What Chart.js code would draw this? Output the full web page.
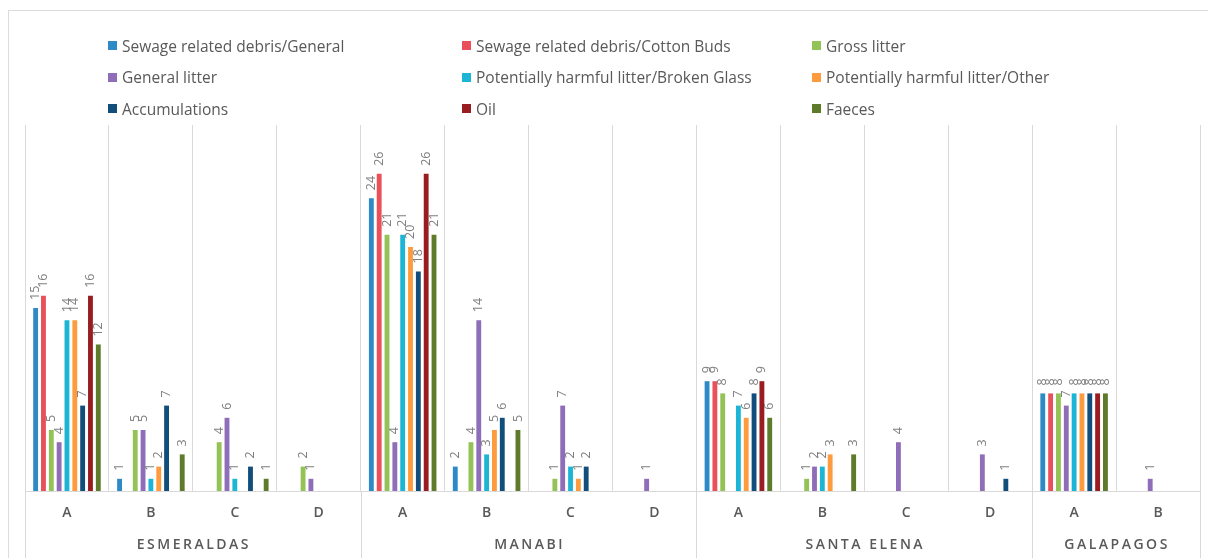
<!DOCTYPE html>
<html>
<head>
<meta charset="utf-8">
<title>Litter categories by beach and province</title>
<script src="https://cdn.jsdelivr.net/npm/chart.js@4.4.1/dist/chart.umd.min.js"></script>
<style>
  html, body { margin: 0; padding: 0; background: #ffffff; }
  #wrap { position: relative; width: 1208px; height: 558px; overflow: hidden; }
  #frame { position: absolute; left: 8px; top: 10px; width: 1400px; height: 800px; border: 1px solid #dcdcdc; box-sizing: border-box; }
  #chart { position: absolute; left: 0; top: 0; }
  #legend {
    position: absolute; left: 108px; top: 30px;
    display: grid; grid-template-columns: 354px 350px 300px; grid-auto-rows: 31.5px;
    font-family: "Open Sans", sans-serif; font-size: 15.5px; color: #595959;
  }
  #legend .item { display: flex; align-items: center; white-space: nowrap; }
  #legend .swatch { width: 9px; height: 9px; margin-right: 5px; flex: none; }
</style>
</head>
<body>
<div id="wrap">
  <div id="frame"></div>
  <canvas id="chart" width="1208" height="558"></canvas>
  <div id="legend"></div>
</div>
<script>
// Sites (beach A–D) within each province
const categories = ['A', 'B', 'C', 'D', 'A', 'B', 'C', 'D', 'A', 'B', 'C', 'D', 'A', 'B'];
const provinces = ['ESMERALDAS', 'MANABI', 'SANTA ELENA', 'GALAPAGOS'];
const provinceSiteCounts = [4, 4, 4, 2];

// Counts per litter category, one value per site
const sewageGeneral      = [15, 1, 0, 0, 24, 2, 0, 0, 9, 0, 0, 0, 8, 0];
const sewageCottonBuds   = [16, 0, 0, 0, 26, 0, 0, 0, 9, 0, 0, 0, 8, 0];
const grossLitter        = [5, 5, 4, 2, 21, 4, 1, 0, 8, 1, 0, 0, 8, 0];
const generalLitter      = [4, 5, 6, 1, 4, 14, 7, 1, 0, 2, 4, 3, 7, 1];
const harmfulBrokenGlass = [14, 1, 1, 0, 21, 3, 2, 0, 7, 2, 0, 0, 8, 0];
const harmfulOther       = [14, 2, 0, 0, 20, 5, 1, 0, 6, 3, 0, 0, 8, 0];
const accumulations      = [7, 7, 2, 0, 18, 6, 2, 0, 8, 0, 0, 1, 8, 0];
const oil                = [16, 0, 0, 0, 26, 0, 0, 0, 9, 0, 0, 0, 8, 0];
const faeces             = [12, 3, 1, 0, 21, 5, 0, 0, 6, 3, 0, 0, 8, 0];

const seriesNames = [
  'Sewage related debris/General', 'Sewage related debris/Cotton Buds', 'Gross litter',
  'General litter', 'Potentially harmful litter/Broken Glass', 'Potentially harmful litter/Other',
  'Accumulations', 'Oil', 'Faeces'
];
const seriesValues = [
  sewageGeneral, sewageCottonBuds, grossLitter,
  generalLitter, harmfulBrokenGlass, harmfulOther,
  accumulations, oil, faeces
];
const seriesColors = [
  '#2D8AC7', '#E9505A', '#93C256',
  '#8F6DB9', '#1DB5D5', '#FF9B3F',
  '#114E7C', '#981C20', '#5D7B2A'
];

const GRID = '#d9d9d9';

// HTML legend laid out in three columns
const legendEl = document.getElementById('legend');
seriesNames.forEach((name, i) => {
  const item = document.createElement('div');
  item.className = 'item';
  const sw = document.createElement('span');
  sw.className = 'swatch';
  sw.style.background = seriesColors[i];
  const txt = document.createElement('span');
  txt.textContent = name;
  item.appendChild(sw);
  item.appendChild(txt);
  legendEl.appendChild(item);
});

// Rotated value labels above each non-zero bar
const valueLabels = {
  id: 'valueLabels',
  afterDatasetsDraw(chart) {
    const ctx = chart.ctx;
    ctx.save();
    ctx.font = '12.5px "Open Sans", sans-serif';
    ctx.fillStyle = '#808080';
    ctx.textAlign = 'left';
    ctx.textBaseline = 'middle';
    chart.data.datasets.forEach((ds, di) => {
      const meta = chart.getDatasetMeta(di);
      meta.data.forEach((bar, i) => {
        const v = ds.data[i];
        if (!v) return;
        ctx.save();
        ctx.translate(bar.x, bar.y - 8);
        ctx.rotate(-Math.PI / 2);
        ctx.fillText(String(v), 0, 0);
        ctx.restore();
      });
    });
    ctx.restore();
  }
};

// Province separators and names below the site labels
const provinceAxis = {
  id: 'provinceAxis',
  afterDraw(chart) {
    const ctx = chart.ctx;
    const x = chart.scales.x;
    const area = chart.chartArea;
    const step = (x.right - x.left) / categories.length;
    ctx.save();
    ctx.strokeStyle = GRID;
    ctx.lineWidth = 1;
    let start = 0;
    const bounds = [0];
    provinceSiteCounts.forEach(n => { start += n; bounds.push(start); });
    bounds.forEach(b => {
      const px = Math.round(x.left + b * step) + 0.5;
      ctx.beginPath();
      ctx.moveTo(px, area.bottom);
      ctx.lineTo(px, chart.height);
      ctx.stroke();
    });
    ctx.fillStyle = '#595959';
    ctx.font = '600 14px "Open Sans", sans-serif';
    ctx.letterSpacing = '2.5px';
    ctx.textAlign = 'center';
    ctx.textBaseline = 'middle';
    provinces.forEach((p, i) => {
      const cx = x.left + (bounds[i] + bounds[i + 1]) / 2 * step;
      ctx.fillText(p, cx + 1, 545);
    });
    ctx.restore();
  }
};

new Chart(document.getElementById('chart'), {
  type: 'bar',
  data: {
    labels: categories,
    datasets: seriesNames.map((name, i) => ({
      label: name,
      data: seriesValues[i],
      backgroundColor: seriesColors[i],
      borderWidth: 0,
      categoryPercentage: 0.84,
      barPercentage: 0.62
    }))
  },
  options: {
    responsive: false,
    animation: false,
    layout: { padding: { left: 25, right: 8, top: 125, bottom: 0 } },
    plugins: {
      legend: { display: false },
      tooltip: { enabled: false }
    },
    scales: {
      x: {
        offset: true,
        grid: { color: GRID, lineWidth: 1, drawTicks: false, offset: true },
        border: { display: true, color: GRID },
        ticks: {
          color: '#595959',
          font: { family: '"Open Sans", sans-serif', size: 14, weight: '600' },
          padding: 14,
          maxRotation: 0,
          autoSkip: false
        },
        afterFit(scale) { scale.height = 67; }
      },
      y: {
        display: false,
        min: 0,
        max: 30
      }
    }
  },
  plugins: [valueLabels, provinceAxis]
});
</script>
</body>
</html>
